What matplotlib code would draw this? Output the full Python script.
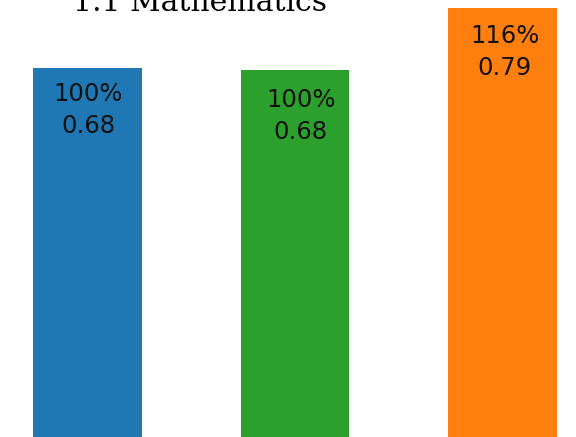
import matplotlib
matplotlib.use('Agg')
import matplotlib.pyplot as plt

# valores
grupos = ['A', 'B', 'C']
valores = [0.680, 0.676, 0.790]
porcentajes = [100, 100, 116]
colores = ['#1f77b4', '#2ca02c', '#ff7f0e']

# pequeño desplazamiento de cada etiqueta (puntos)
desplazamientos = [(0.5, -10), (4, -12.5), (1.5, -11.5)]

fig = plt.figure(figsize=(5.76, 4.37), dpi=100)
ax = fig.add_axes([0, 0, 1, 1])

x = range(len(grupos))
barras = ax.bar(x, valores, width=0.525, color=colores)

for b, v, p, d in zip(barras, valores, porcentajes, desplazamientos):
    ax.annotate(f'{p}%\n{v:.2f}', (b.get_x() + b.get_width() / 2, v),
                xytext=d, textcoords='offset points',
                ha='center', va='top', fontsize=17.5, color='#111111',
                linespacing=1.42)

ax.set_xlim(-0.4217, 2.354)
ax.set_ylim(0.0037, 0.8048)
ax.axis('off')

fig.text(200 / 576, 1 - 11 / 437, '1.1 Mathematics', ha='center', va='baseline',
         fontsize=21.5, family='DejaVu Serif')

fig.savefig('out.png', dpi=100)
